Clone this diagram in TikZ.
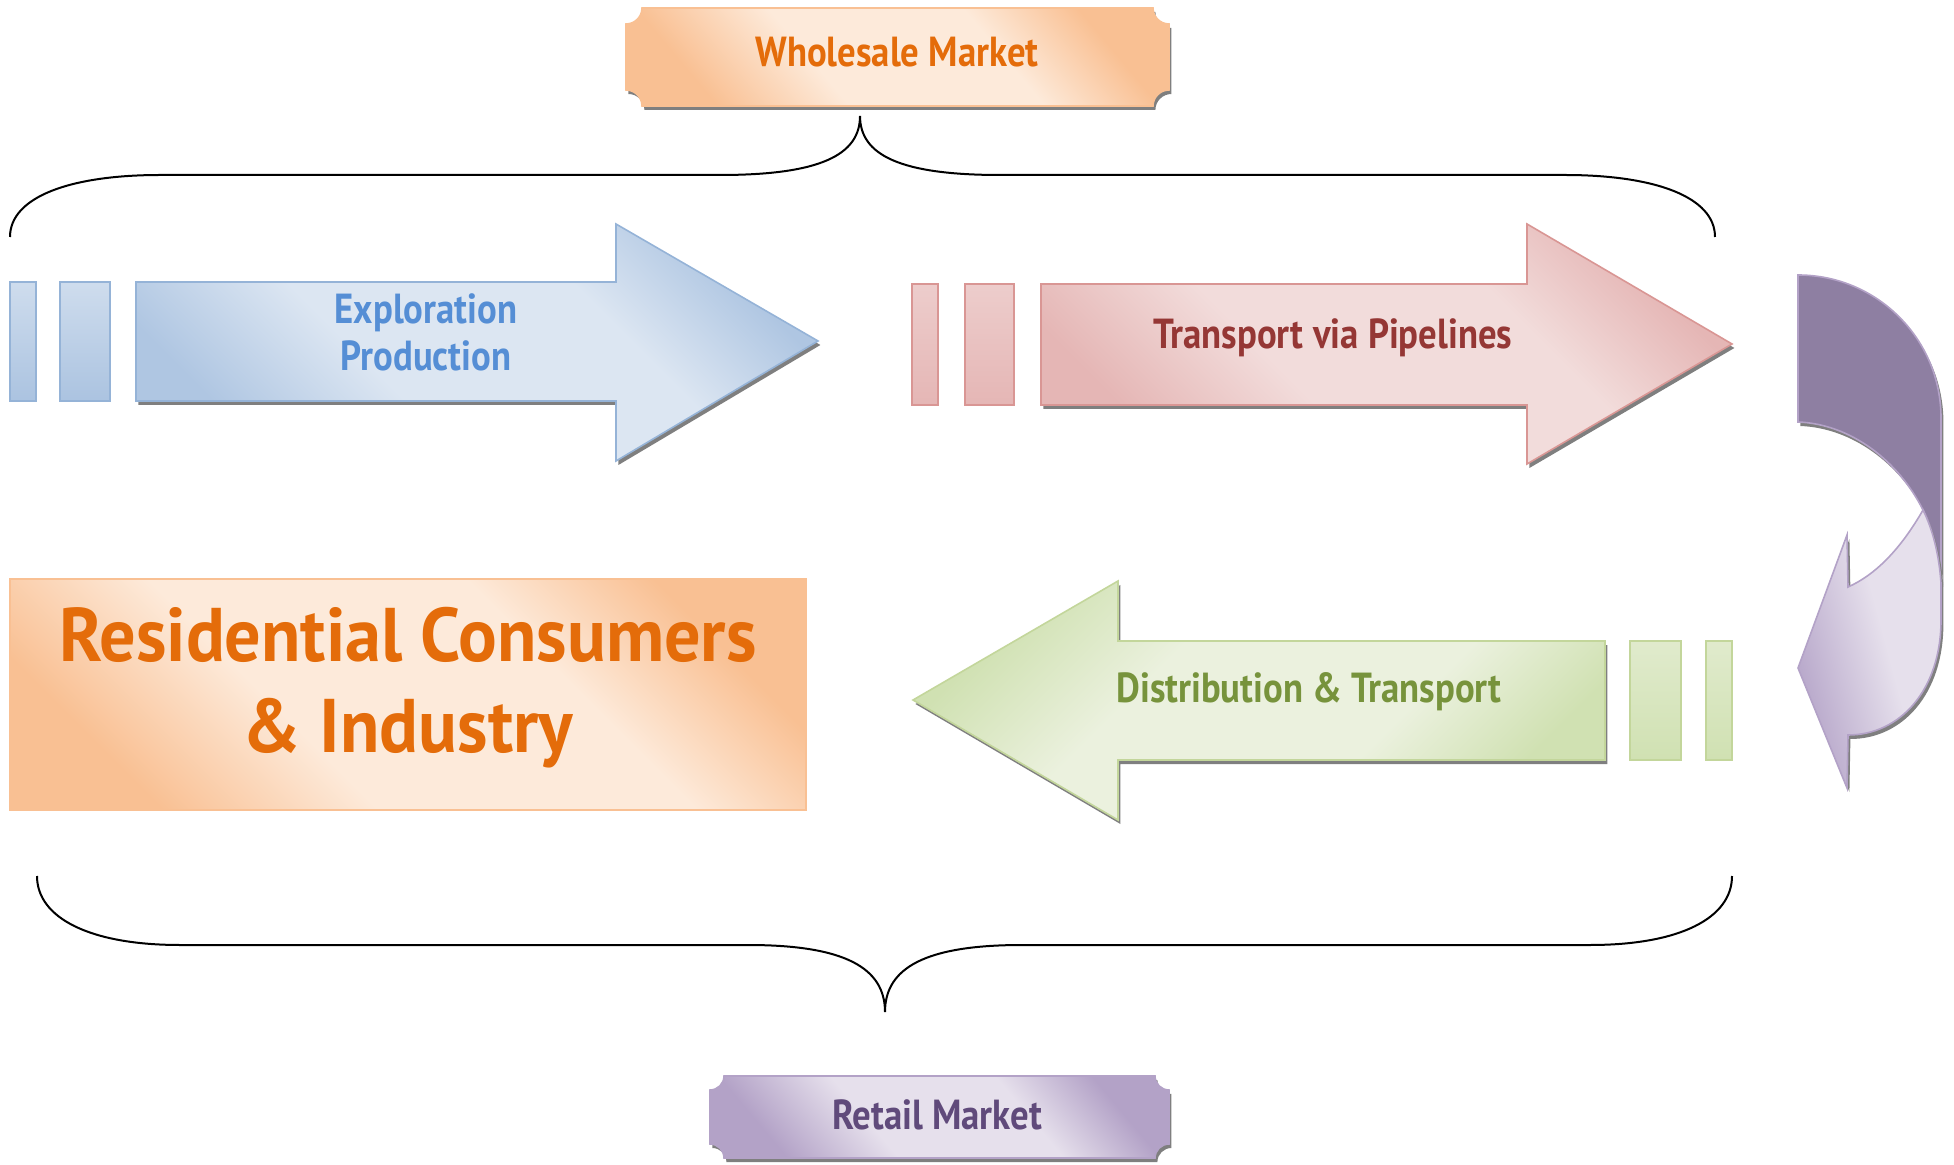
\documentclass[tikz,border=0pt]{standalone}
\usepackage{fontspec}
\setmainfont{PT Sans}[FakeStretch=0.875]
\newfontfamily\headfont{PT Sans}[FakeStretch=0.95]
\usetikzlibrary{shadows}

% palette
\definecolor{bluelt}{HTML}{DCE6F2}
\definecolor{bluedk}{HTML}{AFC6E2}
\definecolor{blueln}{HTML}{95B3D7}
\definecolor{bluetx}{HTML}{558ED5}
\definecolor{redlt}{HTML}{F2DCDB}
\definecolor{reddk}{HTML}{E5B6B5}
\definecolor{redln}{HTML}{D99694}
\definecolor{redtx}{HTML}{953735}
\definecolor{grnlt}{HTML}{EBF1DE}
\definecolor{grndk}{HTML}{D0E1B2}
\definecolor{grnln}{HTML}{C3D69B}
\definecolor{grntx}{HTML}{77933C}
\definecolor{orglt}{HTML}{FDEADA}
\definecolor{orgdk}{HTML}{F9C093}
\definecolor{orgtx}{HTML}{E46C0A}
\definecolor{purlt}{HTML}{E6E0EC}
\definecolor{purdk}{HTML}{B3A2C7}
\definecolor{purtx}{HTML}{604A7B}
\definecolor{purback}{HTML}{8E7FA2}
\definecolor{shadowgray}{HTML}{7F7F7F}

% diagonal dark-light-dark fills
\pgfdeclarehorizontalshading{blueglow}{100bp}{color(0bp)=(bluedk); color(25bp)=(bluedk); color(40bp)=(bluelt); color(62bp)=(bluelt); color(75bp)=(bluedk); color(100bp)=(bluedk)}
\pgfdeclarehorizontalshading{redglow}{100bp}{color(0bp)=(reddk); color(25bp)=(reddk); color(40bp)=(redlt); color(62bp)=(redlt); color(75bp)=(reddk); color(100bp)=(reddk)}
\pgfdeclarehorizontalshading{grnglow}{100bp}{color(0bp)=(grndk); color(25bp)=(grndk); color(40bp)=(grnlt); color(62bp)=(grnlt); color(75bp)=(grndk); color(100bp)=(grndk)}
\pgfdeclarehorizontalshading{orgglow}{100bp}{color(0bp)=(orgdk); color(25bp)=(orgdk); color(40bp)=(orglt); color(62bp)=(orglt); color(75bp)=(orgdk); color(100bp)=(orgdk)}
\pgfdeclarehorizontalshading{purglow}{100bp}{color(0bp)=(purdk); color(25bp)=(purdk); color(40bp)=(purlt); color(62bp)=(purlt); color(75bp)=(purdk); color(100bp)=(purdk)}
\pgfdeclarehorizontalshading{purfront}{100bp}{color(0bp)=(purdk); color(25bp)=(purdk); color(55bp)=(purlt); color(75bp)=(purlt); color(100bp)=(purlt)}

% plaque outline with scooped corners: x0 y0 x1 y1 r
\newcommand\plaquepath[5]{({#1+#5},#2) -- ({#3-#5},#2)
  .. controls ({#3-#5},{#2+0.55*#5}) and ({#3-0.55*#5},{#2+#5}) .. (#3,{#2+#5})
  -- (#3,{#4-#5})
  .. controls ({#3-0.55*#5},{#4-#5}) and ({#3-#5},{#4-0.55*#5}) .. ({#3-#5},#4)
  -- ({#1+#5},#4)
  .. controls ({#1+#5},{#4-0.55*#5}) and ({#1+0.55*#5},{#4-#5}) .. (#1,{#4-#5})
  -- (#1,{#2+#5})
  .. controls ({#1+0.55*#5},{#2+#5}) and ({#1+#5},{#2+0.55*#5}) .. ({#1+#5},#2) -- cycle}

\tikzset{
  hardshadow/.style={drop shadow={shadow xshift=1.2pt, shadow yshift=-2pt, fill=shadowgray, opacity=1}},
  label/.style={font=\bfseries\fontsize{21}{23.5}\selectfont, align=center, inner sep=0pt},
  brace/.style={draw=black, line width=1pt},
  outline/.style={line width=0.8pt},
}

\begin{document}
\begin{tikzpicture}[x=0.5pt, y=-0.5pt, line join=miter]
\useasboundingbox (0,0) rectangle (1954,1165);

% wholesale plaque
\path[hardshadow, shading=orgglow, shading angle=40, draw=orgdk, outline]
  \plaquepath{626}{8}{1169}{106}{16};
\node[label, text=orgtx] (wholesale) at (897,52) {Wholesale Market};

% upper brace
\draw[brace] (10,237) .. controls (10,197) and (70,175) .. (160,175) -- (720,175)
  .. controls (820,175) and (860,155) .. (860,116)
  .. controls (860,155) and (900,175) .. (1000,175) -- (1565,175)
  .. controls (1655,175) and (1715,197) .. (1715,237);

% exploration / production arrow
\path[top color=bluelt!70!bluedk, bottom color=bluedk!85!blueln, draw=blueln, outline]
  (10,282) rectangle (36,401);
\path[top color=bluelt!70!bluedk, bottom color=bluedk!85!blueln, draw=blueln, outline]
  (60,282) rectangle (110,401);
\path[hardshadow, shading=blueglow, shading angle=45, draw=blueln, outline]
  (136,282) -- (616,282) -- (616,224) -- (818,341) -- (616,461) -- (616,401) -- (136,401) -- cycle;
\node[label, text=bluetx] (explore) at (426,332) {Exploration\\Production};

% pipeline arrow
\path[top color=redlt!60!reddk, bottom color=reddk, draw=redln, outline]
  (912,284) rectangle (938,405);
\path[top color=redlt!60!reddk, bottom color=reddk, draw=redln, outline]
  (965,284) rectangle (1014,405);
\path[hardshadow, shading=redglow, shading angle=45, draw=redln, outline]
  (1041,284) -- (1527,284) -- (1527,224) -- (1732,344) -- (1527,464) -- (1527,405) -- (1041,405) -- cycle;
\node[label, text=redtx] (pipeline) at (1333,338) {Transport via Pipelines};

% curved return arrow: back face
\path[hardshadow, fill=purback, draw=purdk, outline]
  (1798,275) .. controls (1877,275) and (1941,339) .. (1941,418) -- (1941,583)
  .. controls (1939,555) and (1933,530) .. (1923,510)
  .. controls (1898,460) and (1850,424) .. (1798,422) -- cycle;
% curved return arrow: front face with head
\path[hardshadow, shading=purfront, shading angle=15, draw=purdk, outline]
  (1923,510) .. controls (1933,530) and (1939,555) .. (1941,583) -- (1941,620)
  .. controls (1941,690) and (1900,735) .. (1848,735) -- (1847,788) -- (1798,668)
  -- (1847,535) -- (1848,587)
  .. controls (1875,575) and (1900,550) .. (1923,510) -- cycle;

% distribution arrow
\path[top color=grnlt!60!grndk, bottom color=grndk, draw=grnln, outline]
  (1630,641) rectangle (1681,760);
\path[top color=grnlt!60!grndk, bottom color=grndk, draw=grnln, outline]
  (1706,641) rectangle (1732,760);
\path[hardshadow, shading=grnglow, shading angle=-45, draw=grnln, outline]
  (1605,641) -- (1118,641) -- (1118,581) -- (913,700) -- (1118,820) -- (1118,760) -- (1605,760) -- cycle;
\node[label, text=grntx] (distrib) at (1309,692) {Distribution \& Transport};

% consumers box
\path[shading=orgglow, shading angle=45, draw=orgdk, outline]
  (10,579) rectangle (806,810);
\node[font=\headfont\bfseries\fontsize{38}{45.5}\selectfont, align=center, inner sep=0pt, text=orgtx]
  (consumers) at (408,688) {Residential Consumers\\\& Industry};

% lower brace
\draw[brace] (37,876) .. controls (37,918) and (90,945) .. (180,945) -- (748,945)
  .. controls (845,945) and (885,968) .. (885,1012)
  .. controls (885,968) and (925,945) .. (1022,945) -- (1590,945)
  .. controls (1680,945) and (1732,918) .. (1732,876);

% retail plaque
\path[hardshadow, shading=purglow, shading angle=40, draw=purdk, outline]
  \plaquepath{710}{1076}{1169}{1158}{14};
\node[label, text=purtx] (retail) at (937,1115) {Retail Market};
\end{tikzpicture}
\end{document}
